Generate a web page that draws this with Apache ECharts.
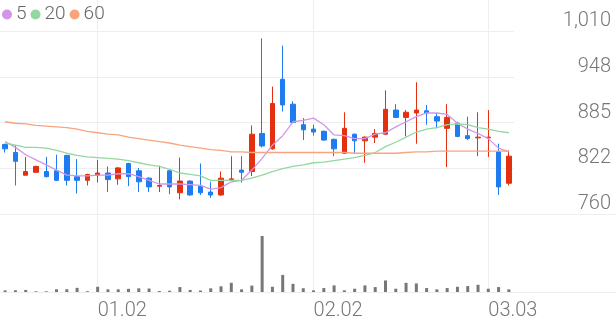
<!DOCTYPE html>
<html>
<head>
<meta charset="utf-8">
<script src="https://cdn.jsdelivr.net/npm/echarts@6/dist/echarts.min.js"></script>
<style>
html,body{margin:0;padding:0;background:#fff;}
#chart{width:616px;height:321px;}
</style>
</head>
<body>
<div id="chart"></div>
<script>
// ---- data ----
const categories = [
  '12.16','12.19','12.20','12.21','12.22','12.23','12.26','12.27','12.28',
  '01.02','01.03','01.04','01.05','01.06','01.09','01.10','01.11','01.12','01.13',
  '01.16','01.17','01.18','01.19','01.20','01.25','01.26','01.27','01.30','01.31','02.01',
  '02.02','02.03','02.06','02.07','02.08','02.09','02.10','02.13','02.14','02.15','02.16',
  '02.17','02.20','02.21','02.22','02.23','02.24',
  '03.03','03.06','03.07'
];
const xTickLabels = ['01.02','02.02','03.03'];

// candles: [open, close, low, high]
const candles = [
  [855,849,844,856],[844,832,799,854],[813,818,813,838],[817,825,816,826],[818,811,810,838],
  [819,806,805,841],[840,806,799,841],[811,806,788,835],[806,814,799,815],[813,816,803,834],
  [816,807,790,825],[808,823,800,824],[829,811,798,830],[819,804,790,823],[809,797,790,810],
  [798,799,790,826],[819,797,787,820],[789,805,780,837],[805,786,785,806],[798,789,786,829],
  [790,786,782,804],[786,809,785,818],[807,808,805,839],[820,817,803,839],[818,869,812,881],
  [870,853,851,1000],[849,911,848,934],[944,909,900,990],[910,885,884,914],[882,875,861,891],
  [876,872,867,882],[873,861,860,874],[862,849,839,863],[843,877,842,899],[869,860,843,870],
  [860,865,830,866],[865,870,857,876],[869,903,868,929],[902,892,891,910],[892,899,866,902],
  [898,902,856,940],[901,898,882,909],[893,887,877,898],[877,892,824,910],[884,866,865,886],
  [867,863,861,893],[864,865,839,899],[864,865,838,902],[845,797,786,856],[802,839,799,847]
];

const ma5 = [
  859,851,841,834,827,820,813,812,812,813,
  813,815,815,811,806,801,801,801,800,799,
  794,796,804,806,820,836,854,867,886,888,
  891,882,868,867,863,863,869,871,879,886,
  893,898,898,896,884,876,870,863,850,845
];
const ma20 = [
  857,854,851,851,850,847,843,840,838,837,
  836,835,833,830,827,825,821,816,814,812,
  806,806,806,806,809,813,818,822,825,827,
  830,831,833,835,837,840,844,852,858,865,
  872,876,878,882,883,882,878,876,873,871
];
const ma60 = [
  886,884,883,881,880,879,878,876,873,871,
  869,868,865,863,861,859,857,854,852,850,
  848,847,845,845,844,844,844,844,844,844,
  844,844,844,844,843,843,843,843,843,844,
  845,845,846,846,846,846,846,846,846,846
];

// volume (relative units)
const volumes = [
  17,18,21,7,7,28,28,42,8,53,
  27,27,32,37,35,10,13,50,21,15,
  37,58,93,27,65,567,53,173,83,38,
  17,40,67,17,33,67,50,117,33,93,
  87,40,27,40,53,60,73,33,50,27
];

const yMin = 760, yMax = 1010, yStep = 62.5;
const yTickLabels = ['760','822','885','948','1,010'];
const legendNames = ['5','20','60'];

// ---- styles ----
const upColor = '#e5300f';
const downColor = '#1f7cf0';
const maColors = ['#d395ea','#93d8a0','#f7a47f'];
const gridColor = '#eeeeee';
const labelColor = '#777777';
const font = 'Roboto, "Noto Sans", sans-serif';

const showTick = (i, v) => xTickLabels.indexOf(v) >= 0;

const chart = echarts.init(document.getElementById('chart'), null, {renderer: 'canvas'});

const gridL = 0, gridR = 102;

chart.setOption({
  animation: false,
  backgroundColor: '#ffffff',
  legend: {
    data: legendNames,
    left: 2, top: 5, padding: 0,
    icon: 'circle', itemWidth: 10, itemHeight: 10, itemGap: 4,
    textStyle: {fontSize: 19, color: '#666', fontFamily: font, fontWeight: 300, padding: [0,0,0,-1]},
    selectedMode: false
  },
  grid: [
    {left: gridL, right: gridR, top: 31, height: 183},
    {left: gridL, right: gridR, top: 215, height: 78},
    {left: gridL, right: gridR, top: 0, height: 31}
  ],
  xAxis: [
    {
      type: 'category', gridIndex: 0, data: categories, boundaryGap: true,
      axisLine: {show: false}, axisTick: {show: false}, axisLabel: {show: false},
      splitLine: {show: true, interval: showTick, alignWithLabel: true, lineStyle: {color: gridColor, width: 1}}
    },
    {
      type: 'category', gridIndex: 1, data: categories, boundaryGap: true,
      axisLine: {show: false}, axisTick: {show: false},
      axisLabel: {show: true, interval: showTick, align: 'left', margin: 9,
        fontSize: 20, color: labelColor, fontFamily: font, fontWeight: 300},
      splitLine: {show: true, interval: showTick, alignWithLabel: true, lineStyle: {color: gridColor, width: 1}}
    },
    {
      type: 'category', gridIndex: 2, data: categories, boundaryGap: true,
      axisLine: {show: false}, axisTick: {show: false}, axisLabel: {show: false},
      splitLine: {show: true, interval: showTick, alignWithLabel: true, lineStyle: {color: gridColor, width: 1}}
    }
  ],
  yAxis: [
    {
      type: 'value', gridIndex: 0, position: 'right', min: yMin, max: yMax, interval: yStep,
      axisLine: {show: false}, axisTick: {show: false},
      splitLine: {show: true, lineStyle: {color: gridColor, width: 1}},
      axisLabel: {
        show: true, inside: false, margin: 97, align: 'right', verticalAlign: 'bottom',
        padding: [0,0,0,0],
        fontSize: 20, color: labelColor, fontFamily: font, fontWeight: 300,
        formatter: (v) => {
          const i = Math.round((v - yMin) / yStep);
          return yTickLabels[i] !== undefined ? yTickLabels[i] : '';
        }
      }
    },
    {
      type: 'value', gridIndex: 1, min: 0, max: 780, show: false,
      splitLine: {show: false}
    },
    {
      type: 'value', gridIndex: 2, min: 0, max: 1, show: false,
      splitLine: {show: false}
    }
  ],
  graphic: [
    {type: 'line', shape: {x1: 0, y1: 214.5, x2: 616, y2: 214.5}, style: {stroke: gridColor, lineWidth: 1}, silent: true, z: 0},
    {type: 'line', shape: {x1: 0, y1: 292.5, x2: 616, y2: 292.5}, style: {stroke: gridColor, lineWidth: 1}, silent: true, z: 0}
  ],
  series: [
    {
      type: 'candlestick', name: 'price', xAxisIndex: 0, yAxisIndex: 0,
      data: candles, barWidth: 5,
      itemStyle: {color: upColor, color0: downColor, borderColor: upColor, borderColor0: downColor, borderWidth: 1}
    },
    {
      type: 'line', name: legendNames[0], xAxisIndex: 0, yAxisIndex: 0, data: ma5,
      showSymbol: false, symbol: 'none', lineStyle: {color: maColors[0], width: 1.3}, itemStyle: {color: maColors[0]}
    },
    {
      type: 'line', name: legendNames[1], xAxisIndex: 0, yAxisIndex: 0, data: ma20,
      showSymbol: false, symbol: 'none', lineStyle: {color: maColors[1], width: 1.3}, itemStyle: {color: maColors[1]}
    },
    {
      type: 'line', name: legendNames[2], xAxisIndex: 0, yAxisIndex: 0, data: ma60,
      showSymbol: false, symbol: 'none', lineStyle: {color: maColors[2], width: 1.3}, itemStyle: {color: maColors[2]}
    },
    {
      type: 'bar', name: 'volume', xAxisIndex: 1, yAxisIndex: 1, data: volumes,
      barWidth: 3, itemStyle: {color: '#777777'}
    }
  ]
});
</script>
</body>
</html>
